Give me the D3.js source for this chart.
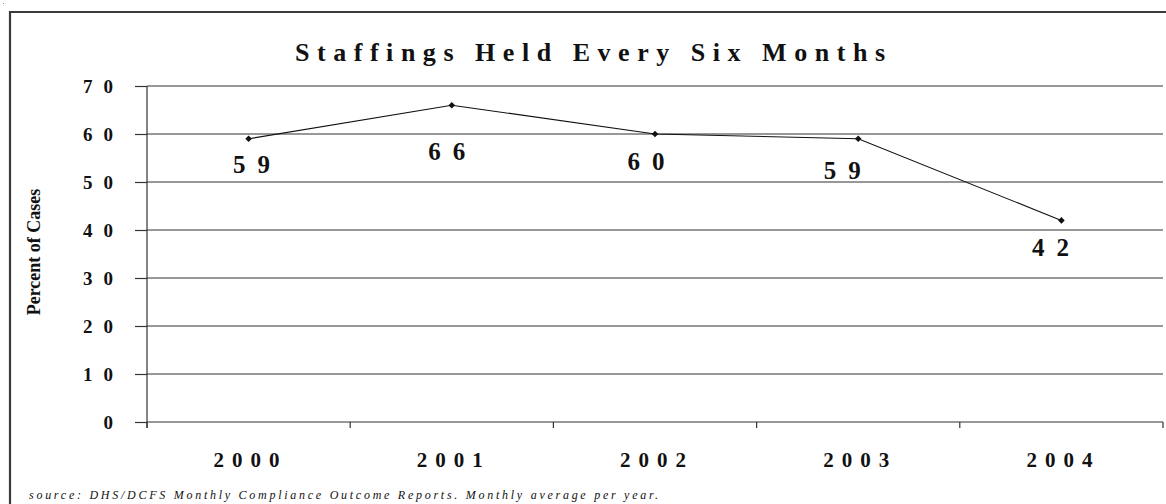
<!DOCTYPE html>
<html><head><meta charset="utf-8">
<script src="https://cdn.jsdelivr.net/npm/d3@7"></script>
<style>
html,body{margin:0;padding:0;background:#fff;}
svg{display:block;}
text{font-family:"Liberation Serif","DejaVu Serif",serif;fill:#111;}
</style></head>
<body>
<svg id="chart" width="1166" height="504"></svg>
<script>
const years = ["2000","2001","2002","2003","2004"];
const values = [59, 66, 60, 59, 42];
const yTicks = [0,10,20,30,40,50,60,70];
const titleText = "Staffings Held Every Six Months";
const yTitle = "Percent of Cases";
const sourceText = "source: DHS/DCFS Monthly Compliance Outcome Reports. Monthly average per year.";
// label placement offsets (layout, not data)
const labelDx = [3, -5, -9, -16, -11];
const labelDy = [34, 55, 36, 40, 36];

const svg = d3.select("#chart");
const plotL = 147, plotR = 1163, plotT = 86, plotB = 422;
const x = d3.scaleBand().domain(years).range([plotL, plotR]);
const y = d3.scaleLinear().domain([0,70]).range([plotB, plotT]);

// outer border (extends past right/bottom edges)
svg.append("path").attr("d","M10,1000 L10,12 L1200,12").attr("fill","none").attr("stroke","#3a3a3a").attr("stroke-width",2.2);
svg.append("rect").attr("x",3).attr("y",3).attr("width",1).attr("height",1).attr("fill","#888");

// gridlines
svg.append("g").selectAll("line").data(yTicks.filter(d=>d>0)).join("line")
  .attr("x1",plotL).attr("x2",plotR).attr("y1",d=>y(d)).attr("y2",d=>y(d))
  .attr("stroke","#333").attr("stroke-width",1.2);

// y axis
const yAxis = svg.append("g").attr("transform",`translate(${plotL},0)`)
  .call(d3.axisLeft(y).tickValues(yTicks).tickSize(12).tickPadding(22).tickFormat(d=>String(d)));
yAxis.attr("font-family",null);
yAxis.select(".domain").attr("stroke","#333").attr("stroke-width",1.2).attr("d",`M0,${plotT}V${plotB+6}`);
yAxis.selectAll(".tick line").attr("stroke","#333").attr("stroke-width",1.2);
yAxis.selectAll(".tick text").attr("font-size",19).attr("font-weight","bold").attr("fill","#111")
  .attr("dy","0.35em")
  .each(function(d){ if(String(d).length>1){ d3.select(this).attr("textLength",30).attr("lengthAdjust","spacing"); } });

// x axis
const xAxis = svg.append("g").attr("transform",`translate(0,${plotB})`)
  .call(d3.axisBottom(x).tickSize(0).tickPadding(30));
xAxis.attr("font-family",null);
xAxis.select(".domain").attr("stroke","#333").attr("stroke-width",1.2).attr("d",`M${plotL},0H${plotR}`);
xAxis.selectAll(".tick text").attr("font-size",21).attr("font-weight","bold").attr("fill","#111")
  .attr("textLength",66).attr("lengthAdjust","spacing")
  .attr("dx",-2);
// category boundary ticks
const bounds = years.map(d=>x(d)).concat([x(years[years.length-1])+x.bandwidth()]);
svg.append("g").selectAll("line").data(bounds).join("line")
  .attr("x1",d=>d).attr("x2",d=>d).attr("y1",plotB).attr("y2",plotB+6)
  .attr("stroke","#333").attr("stroke-width",1.2);

// line
const cx = d=>x(d)+x.bandwidth()/2;
const pts = years.map((d,i)=>[cx(d), y(values[i])]);
svg.append("path").attr("d",d3.line()(pts)).attr("fill","none").attr("stroke","#111").attr("stroke-width",1.1);
svg.append("g").selectAll("path").data(pts).join("path")
  .attr("d",d3.symbol(d3.symbolDiamond2 || d3.symbolDiamond, 28))
  .attr("transform",p=>`translate(${p[0]},${p[1]})`).attr("fill","#111");

// data labels
svg.append("g").selectAll("text").data(values).join("text")
  .attr("x",(d,i)=>cx(years[i])+labelDx[i]).attr("y",(d,i)=>y(d)+labelDy[i])
  .attr("text-anchor","middle").attr("font-size",25).attr("font-weight","bold")
  .attr("textLength",37).attr("lengthAdjust","spacing").text(d=>d);

// title
svg.append("text").attr("x",590).attr("y",61).attr("text-anchor","middle")
  .attr("font-size",26).attr("font-weight","bold").attr("textLength",590).attr("lengthAdjust","spacing")
  .text(titleText);

// y title
svg.append("text").attr("transform","translate(40,252) rotate(-90)").attr("text-anchor","middle")
  .attr("font-size",18).attr("font-weight","bold").text(yTitle);

// source
svg.append("text").attr("x",29).attr("y",499).attr("font-size",12).attr("font-style","italic")
  .attr("textLength",629).attr("lengthAdjust","spacing").text(sourceText);
</script>
</body></html>
